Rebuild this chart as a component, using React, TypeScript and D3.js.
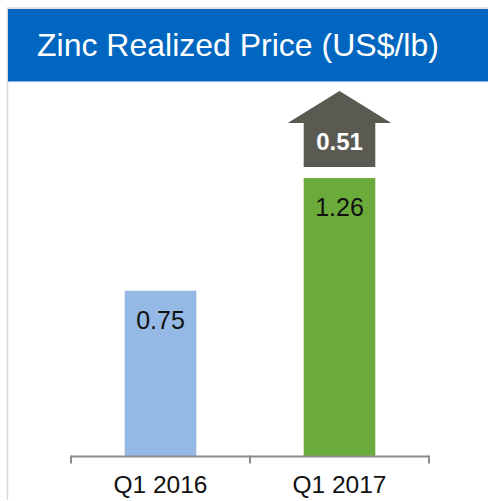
import React from "react";
import * as d3 from "d3";

// 資料
const categories = ["Q1 2016", "Q1 2017"];
const prices = [0.75, 1.26];
const barColors = ["#95b9e5", "#6aab3b"];
const increaseLabel = "0.51";
const title = "Zinc Realized Price (US$/lb)";

const W = 488;
const H = 501;
const FONT = "'Liberation Sans', Arial, sans-serif";

/** 鋅實現價格圖 */
export default function App() {
    const axisY = 456.5;
    const x = d3.scaleBand<string>()
        .domain(categories)
        .range([71, 429])
        .paddingInner(0.6)
        .paddingOuter(0.3);
    const y = d3.scaleLinear().domain([0, 1]).range([axisY, axisY - 221]);
    const bw = x.bandwidth();

    // 箭頭位置 (在最後一根柱子上方)
    const last = categories[categories.length - 1];
    const ax = x(last)!;
    const top = y(prices[prices.length - 1]);
    const stemBottom = top - 11;
    const stemTop = stemBottom - 44;
    const tipY = stemTop - 32;
    const wing = 16;
    const arrow = d3.path();
    arrow.moveTo(ax, stemBottom);
    arrow.lineTo(ax, stemTop);
    arrow.lineTo(ax - wing, stemTop);
    arrow.lineTo(ax + bw / 2, tipY);
    arrow.lineTo(ax + bw + wing, stemTop);
    arrow.lineTo(ax + bw, stemTop);
    arrow.lineTo(ax + bw, stemBottom);
    arrow.closePath();

    // 刻度在各類別的邊界
    const [r0, r1] = x.range();
    const tickXs = [...categories.map(c => x(c)! - x.step() * x.paddingOuter()), r1];

    return (
        <svg width={W} height={H} style={{ position: "absolute", left: 0, top: 0 }} fontFamily={FONT}>
            {/* 外框 */}
            <line x1={7.5} y1={8} x2={7.5} y2={500} stroke="#d9d9d9" strokeWidth={1.5} />
            <line x1={7} y1={8} x2={W} y2={8} stroke="#d9d9d9" strokeWidth={1.5} />
            {/* 標題 */}
            <rect x={8} y={9} width={W - 8} height={72.5} fill="#0066c0" />
            <text x={37} y={56} fill="#fff" fontSize={32}>{title}</text>

            {/* 柱子 */}
            {categories.map((c, i) => (
                <g key={c}>
                    <rect x={x(c)} y={y(prices[i])} width={bw} height={axisY - y(prices[i])} fill={barColors[i]} />
                    <text x={x(c)! + bw / 2} y={y(prices[i]) + 38} textAnchor="middle" fontSize={25} fill="#111">
                        {prices[i].toFixed(2)}
                    </text>
                    <text x={x(c)! + bw / 2} y={493} textAnchor="middle" fontSize={24.5} fill="#111">{c}</text>
                </g>
            ))}

            {/* 軸線 */}
            <line x1={r0} y1={axisY} x2={r1} y2={axisY} stroke="#8c8c8c" strokeWidth={2} />
            {tickXs.map(t => (
                <line key={t} x1={t} y1={axisY - 1} x2={t} y2={axisY + 7} stroke="#8c8c8c" strokeWidth={2} />
            ))}

            {/* 增加箭頭 */}
            <path d={arrow.toString()} fill="#5a5a53" />
            <text x={ax + bw / 2} y={stemBottom - 17} textAnchor="middle" fontSize={24} fontWeight="bold" fill="#fff">
                {increaseLabel}
            </text>
        </svg>
    );
}
